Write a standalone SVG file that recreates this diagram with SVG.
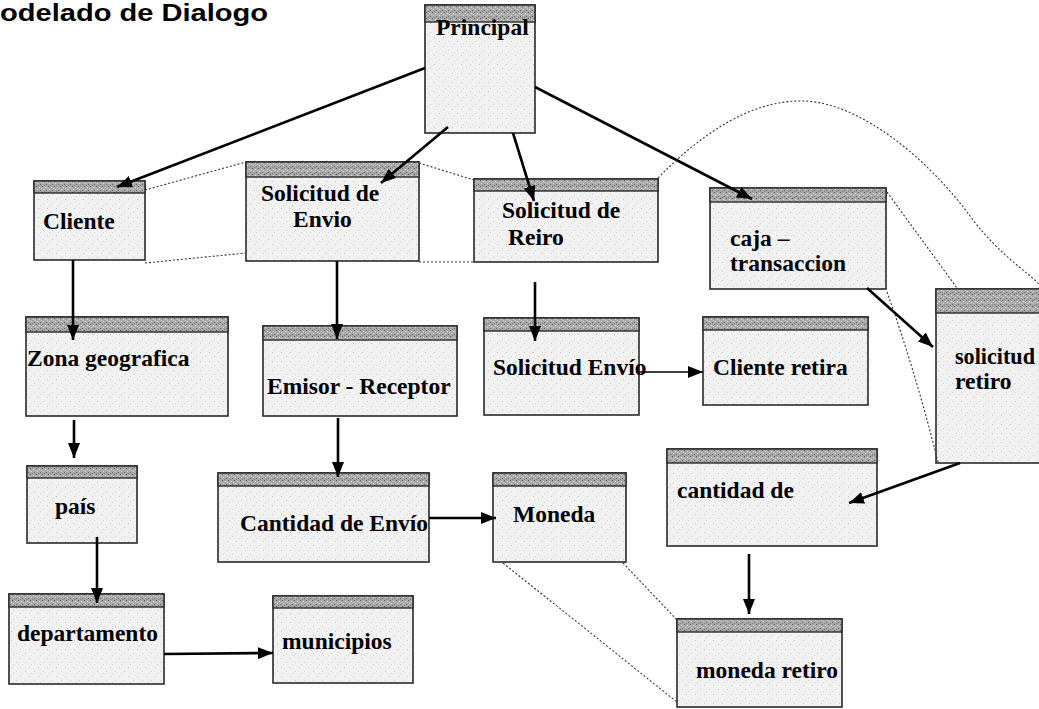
<svg xmlns="http://www.w3.org/2000/svg" width="1039" height="709" viewBox="0 0 1039 709">
<defs>
<pattern id="hdrTex" width="6" height="6" patternUnits="userSpaceOnUse">
<rect width="6" height="6" fill="#a8a8a8"/>
<rect x="0" y="0" width="1" height="1" fill="#5a5a5a"/>
<rect x="3" y="1" width="1" height="1" fill="#e0e0e0"/>
<rect x="1" y="3" width="1" height="1" fill="#d8d8d8"/>
<rect x="4" y="4" width="1" height="1" fill="#666"/>
<rect x="2" y="5" width="1" height="1" fill="#7a7a7a"/>
<rect x="5" y="2" width="1" height="1" fill="#cfcfcf"/>
</pattern>
<pattern id="bodyTex" width="9" height="9" patternUnits="userSpaceOnUse">
<rect width="9" height="9" fill="#f1f1f1"/>
<rect x="2" y="1" width="1" height="1" fill="#c4c4c4"/>
<rect x="7" y="5" width="1" height="1" fill="#cccccc"/>
<rect x="4" y="7" width="1" height="1" fill="#d6d6d6"/>
</pattern>
<marker id="arr" markerUnits="userSpaceOnUse" markerWidth="16" markerHeight="12" refX="15" refY="6" orient="auto">
<path d="M0,0 L15,6 L0,12 z" fill="#000"/>
</marker>
</defs>
<style>
.body{fill:url(#bodyTex);stroke:#2a2a2a;stroke-width:1.6}
.hdr{fill:url(#hdrTex);stroke:#2a2a2a;stroke-width:1.4}
.lbl{font-family:"Liberation Serif","Times New Roman",serif;font-weight:bold;font-size:23.5px;fill:#000}
.title{font-family:"Liberation Sans",Arial,sans-serif;font-weight:bold;font-size:24px;fill:#000}
.arrow{fill:none;stroke:#000;stroke-width:2.6;marker-end:url(#arr)}
.thin{fill:none;stroke:#000;stroke-width:1.3;marker-end:url(#arr)}
.dash{fill:none;stroke:#333;stroke-width:1.1;stroke-dasharray:2 2}
</style>
<rect width="1039" height="709" fill="#fff"/>
<text class="title" x="0" y="21" textLength="268" lengthAdjust="spacingAndGlyphs">odelado de Dialogo</text>

<g id="principal"><rect class="body" x="425" y="5" width="110" height="128"/><rect class="hdr" x="425" y="5" width="110" height="17"/><text class="lbl" x="436" y="35">Principal</text></g>
<g id="cliente"><rect class="body" x="34" y="181" width="111" height="79"/><rect class="hdr" x="34" y="181" width="111" height="12"/><text class="lbl" x="43" y="229">Cliente</text></g>
<g id="solicitud-envio"><rect class="body" x="246" y="162" width="173" height="99"/><rect class="hdr" x="246" y="162" width="173" height="15"/><text class="lbl" x="261" y="201">Solicitud de</text><text class="lbl" x="293" y="227">Envio</text></g>
<g id="solicitud-reiro"><rect class="body" x="474" y="179" width="184" height="83"/><rect class="hdr" x="474" y="179" width="184" height="12"/><text class="lbl" x="502" y="218">Solicitud de</text><text class="lbl" x="508" y="245">Reiro</text></g>
<g id="caja"><rect class="body" x="710" y="188" width="176" height="101"/><rect class="hdr" x="710" y="188" width="176" height="14"/><text class="lbl" x="730" y="246">caja –</text><text class="lbl" x="730" y="271">transaccion</text></g>
<g id="solicitud-retiro"><rect class="body" x="936" y="289" width="112" height="174"/><rect class="hdr" x="936" y="289" width="112" height="24"/><text class="lbl" x="955" y="364" textLength="80" lengthAdjust="spacingAndGlyphs">solicitud</text><text class="lbl" x="955" y="389">retiro</text></g>
<g id="zona"><rect class="body" x="26" y="317" width="202" height="99"/><rect class="hdr" x="26" y="317" width="202" height="15"/><text class="lbl" x="27" y="366">Zona geografica</text></g>
<g id="emisor"><rect class="body" x="263" y="326" width="194" height="90"/><rect class="hdr" x="263" y="326" width="194" height="14"/><text class="lbl" x="267" y="394">Emisor - Receptor</text></g>
<g id="solicitud-envio-2"><rect class="body" x="484" y="318" width="155" height="97"/><rect class="hdr" x="484" y="318" width="155" height="13"/><text class="lbl" x="493" y="375">Solicitud Envío</text></g>
<g id="cliente-retira"><rect class="body" x="703" y="317" width="165" height="88"/><rect class="hdr" x="703" y="317" width="165" height="13"/><text class="lbl" x="713" y="375">Cliente retira</text></g>
<g id="pais"><rect class="body" x="27" y="466" width="110" height="77"/><rect class="hdr" x="27" y="466" width="110" height="12"/><text class="lbl" x="55" y="514">país</text></g>
<g id="cantidad-envio"><rect class="body" x="218" y="473" width="211" height="89"/><rect class="hdr" x="218" y="473" width="211" height="13"/><text class="lbl" x="240" y="531">Cantidad de Envío</text></g>
<g id="moneda"><rect class="body" x="493" y="473" width="133" height="89"/><rect class="hdr" x="493" y="473" width="133" height="13"/><text class="lbl" x="513" y="522">Moneda</text></g>
<g id="cantidad-de"><rect class="body" x="667" y="449" width="210" height="97"/><rect class="hdr" x="667" y="449" width="210" height="14"/><text class="lbl" x="677" y="498">cantidad de</text></g>
<g id="departamento"><rect class="body" x="9" y="594" width="155" height="90"/><rect class="hdr" x="9" y="594" width="155" height="13"/><text class="lbl" x="17" y="641">departamento</text></g>
<g id="municipios"><rect class="body" x="273" y="596" width="140" height="87"/><rect class="hdr" x="273" y="596" width="140" height="12"/><text class="lbl" x="282" y="649">municipios</text></g>
<g id="moneda-retiro"><rect class="body" x="677" y="619" width="165" height="88"/><rect class="hdr" x="677" y="619" width="165" height="13"/><text class="lbl" x="696" y="678">moneda retiro</text></g>

<g id="connectors">
<path class="arrow" d="M425,68 L117,187"/>
<path class="arrow" d="M448,127 L381,183"/>
<path class="arrow" d="M513,133 L534,201"/>
<path class="arrow" d="M535,87 L752,199"/>
<path class="arrow" d="M73,260 L73,340"/>
<path class="arrow" d="M337,261 L337,339"/>
<path class="arrow" d="M535,282 L535,341"/>
<path class="thin" d="M639,372 L703,372"/>
<path class="arrow" d="M74,420 L74,458"/>
<path class="arrow" d="M338,418 L338,477"/>
<path class="arrow" d="M97,537 L97,603"/>
<path class="arrow" d="M429,518 L496,518"/>
<path class="arrow" d="M164,654 L273,653"/>
<path class="arrow" d="M867,288 L933,347"/>
<path class="arrow" d="M960,463 L849,503"/>
<path class="arrow" d="M749,554 L749,614"/>
<path class="dash" d="M145,190 L246,162"/>
<path class="dash" d="M145,263 L246,253"/>
<path class="dash" d="M419,163 L474,180"/>
<path class="dash" d="M419,262 L474,262"/>
<path class="dash" d="M658,178 C700,135 750,100 803,101 C860,102 930,160 973,220 C1000,255 1025,270 1039,284"/>
<path class="dash" d="M887,192 L957,288"/>
<path class="dash" d="M887,292 Q915,370 938,462"/>
<path class="dash" d="M503,563 L677,702"/>
<path class="dash" d="M623,563 L677,620"/>
</g>
</svg>
